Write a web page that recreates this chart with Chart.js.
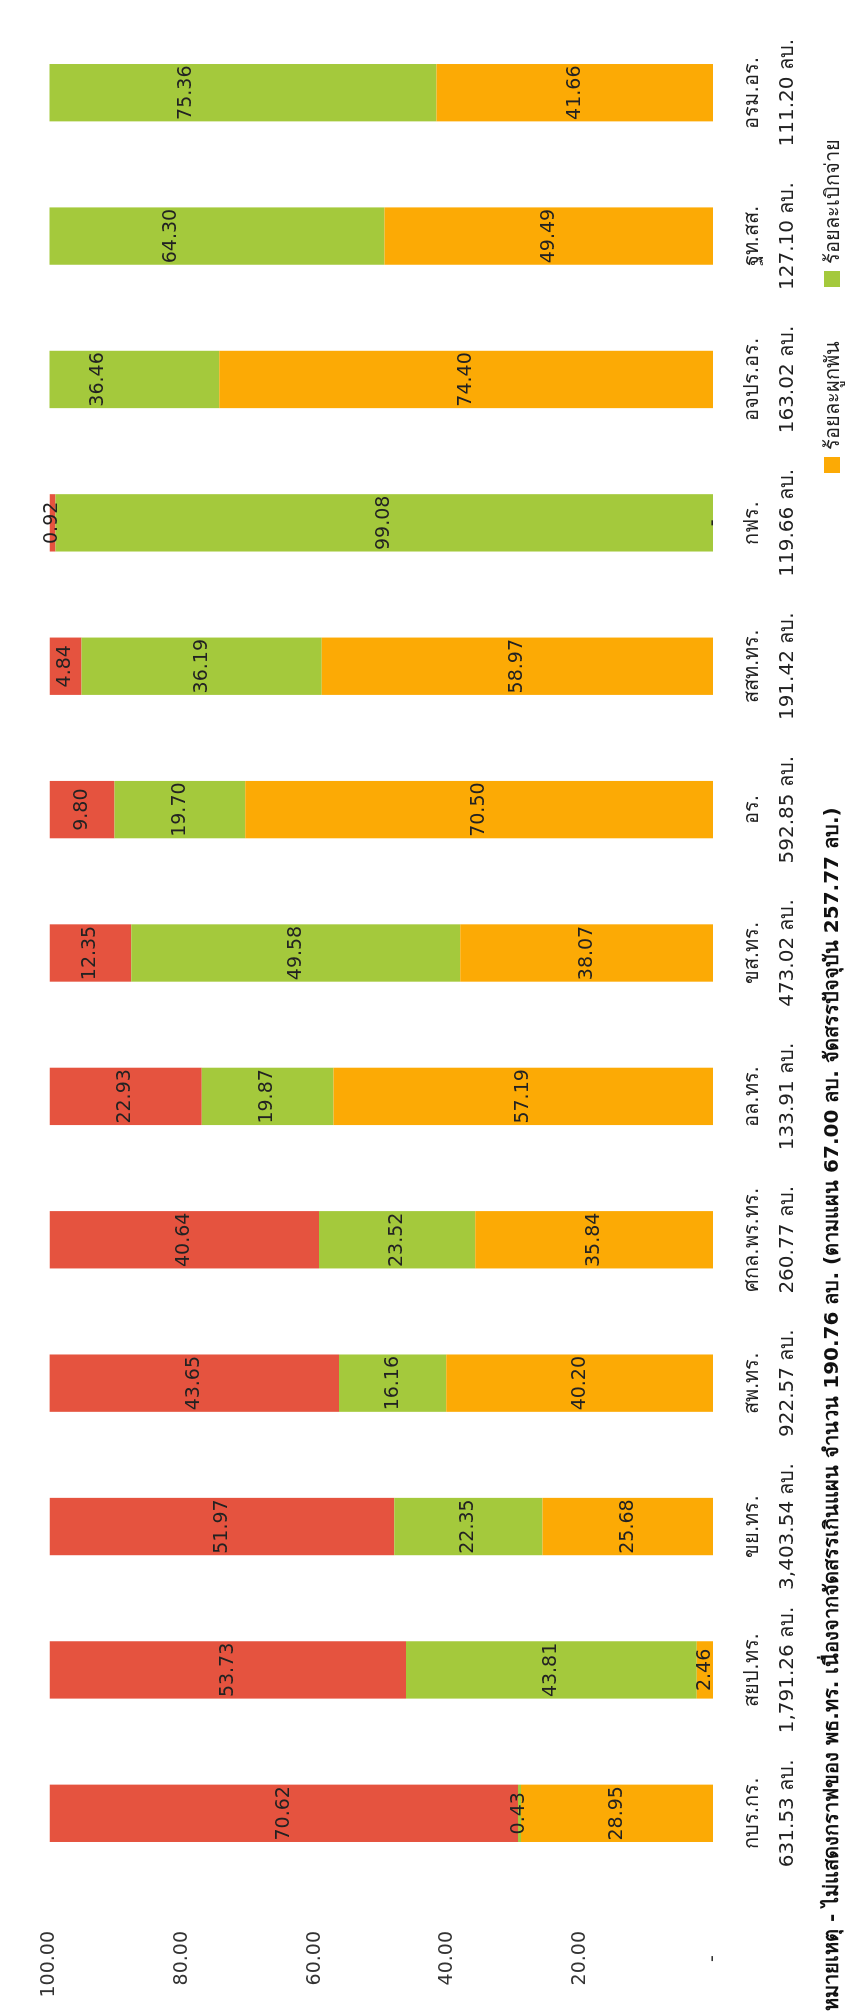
<!DOCTYPE html>
<html lang="th">
<head>
<meta charset="utf-8">
<script src="https://cdn.jsdelivr.net/npm/chart.js@4.4.1/dist/chart.umd.min.js"></script>
<style>
  html, body { margin: 0; padding: 0; background: #fff; }
  body { width: 853px; height: 2011px; overflow: hidden; position: relative; }
  /* the sheet is laid out landscape and turned a quarter turn to the left */
  #sheet { position: absolute; left: 0; top: 0; width: 2011px; height: 853px;
    transform-origin: 0 0; transform: translate(0, 2011px) rotate(-90deg); }
  #budgetChart { position: absolute; left: 0; top: 0; }
  .note { position: absolute; left: 0; top: 815px; white-space: nowrap;
    font: bold 20px 'DejaVu Sans', sans-serif; color: #111; }
  .legend { position: absolute; left: 1538px; top: 816px; white-space: nowrap;
    font: 20px 'DejaVu Sans', sans-serif; color: #222; }
  .legend span.item { display: inline-block; margin-right: 54px; }
  .legend i { display: inline-block; width: 16px; height: 16px; margin-right: 7px; vertical-align: -1px; }
</style>
</head>
<body>
<div id="sheet">
  <canvas id="budgetChart" width="2011" height="853"></canvas>
  <div class="note">หมายเหตุ - ไม่แสดงกราฟของ พธ.ทร. เนื่องจากจัดสรรเกินแผน จำนวน 190.76 ลบ. (ตามแผน 67.00 ลบ. จัดสรรปัจจุบัน 257.77 ลบ.)</div>
  <div class="legend" id="legend"></div>
</div>
<script>
// units
var units = ["กบร.กร.", "สยป.ทร.", "ขย.ทร.", "สพ.ทร.", "ศกล.พร.ทร.", "อล.ทร.", "ขส.ทร.", "อร.", "สสท.ทร.", "กฟร.", "อจปร.อร.", "ฐท.สส.", "อรม.อร."];
var budgets = ["631.53 ลบ.", "1,791.26 ลบ.", "3,403.54 ลบ.", "922.57 ลบ.", "260.77 ลบ.", "133.91 ลบ.", "473.02 ลบ.", "592.85 ลบ.", "191.42 ลบ.", "119.66 ลบ.", "163.02 ลบ.", "127.10 ลบ.", "111.20 ลบ."];
// percentages
var committed = [28.95, 2.46, 25.68, 40.20, 35.84, 57.19, 38.07, 70.50, 58.97, 0, 74.40, 49.49, 41.66];
var disbursed = [0.43, 43.81, 22.35, 16.16, 23.52, 19.87, 49.58, 19.70, 36.19, 99.08, 36.46, 64.30, 75.36];
var remaining = [70.62, 53.73, 51.97, 43.65, 40.64, 22.93, 12.35, 9.80, 4.84, 0.92, 0, 0, 0];
var yTicks = [0, 20, 40, 60, 80, 100];

var labels = units.map(function (u, i) { return [u, budgets[i]]; });

function fmt(v) {
  return v === 0 ? "-" : v.toFixed(2);
}

Chart.defaults.font.family = "'DejaVu Sans', 'Noto Sans', sans-serif";
Chart.defaults.color = "#333";

// value labels in the middle of each piece
var barValues = {
  id: "barValues",
  afterDatasetsDraw: function (chart) {
    var ctx = chart.ctx;
    var area = chart.chartArea;
    ctx.save();
    ctx.font = "19px 'DejaVu Sans', sans-serif";
    ctx.fillStyle = "#222";
    ctx.textAlign = "center";
    ctx.textBaseline = "middle";
    chart.data.datasets.forEach(function (ds, di) {
      var meta = chart.getDatasetMeta(di);
      meta.data.forEach(function (bar, i) {
        var y = (bar.y + bar.base) / 2;
        if (y < area.top) return;
        ctx.fillText(fmt(ds.data[i]), bar.x, y);
      });
    });
    ctx.restore();
  }
};

var ctx = document.getElementById("budgetChart");
var budgetChart = new Chart(ctx, {
  type: "bar",
  data: {
    labels: labels,
    datasets: [
      { label: "ร้อยละผูกพัน", data: committed, backgroundColor: "#FCAA05" },
      { label: "ร้อยละเบิกจ่าย", data: disbursed, backgroundColor: "#A4C93C" },
      { label: "ร้อยละคงเหลือ", data: remaining, backgroundColor: "#E5533F" }
    ]
  },
  options: {
    responsive: false,
    animation: false,
    layout: { padding: { top: 21, right: 21, bottom: 56, left: 0 } },
    categoryPercentage: 0.8,
    barPercentage: 0.5,
    plugins: {
      legend: { display: false },
      tooltip: { enabled: false }
    },
    scales: {
      x: {
        stacked: true,
        grid: { display: false },
        border: { display: false },
        ticks: {
          autoSkip: false, maxRotation: 0, padding: 14,
          font: { size: 20, lineHeight: 1.75 }, color: "#222"
        },
        afterFit: function (s) { s.height = 84; }
      },
      y: {
        stacked: true,
        min: 0, max: 100,
        grid: { display: false },
        border: { display: false },
        afterBuildTicks: function (s) { s.ticks = yTicks.map(function (v) { return { value: v }; }); },
        ticks: {
          padding: 38,
          font: { size: 19 }, color: "#333",
          callback: function (v) { return v === 0 ? "-    " : v.toFixed(2); }
        },
        afterFit: function (s) { s.width = 126; }
      }
    }
  },
  plugins: [barValues]
});

// legend: only the two reported series
var legendBox = document.getElementById("legend");
budgetChart.data.datasets.slice(0, 2).forEach(function (ds) {
  var item = document.createElement("span");
  item.className = "item";
  item.innerHTML = '<i style="background:' + ds.backgroundColor + '"></i>' + ds.label;
  legendBox.appendChild(item);
});
</script>
</body>
</html>
